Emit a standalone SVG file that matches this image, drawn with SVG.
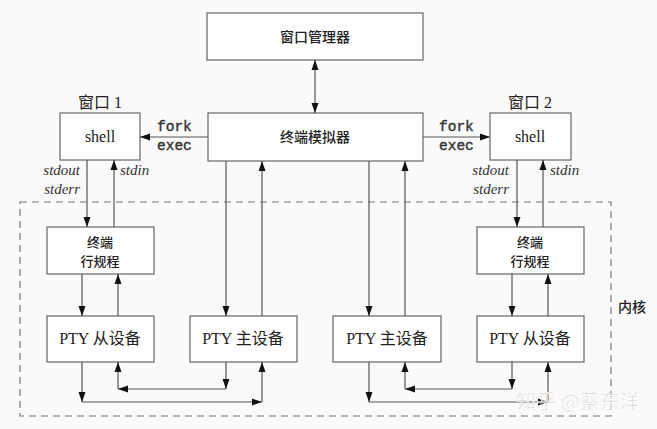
<svg xmlns="http://www.w3.org/2000/svg" width="657" height="429" viewBox="0 0 657 429">
<defs>
<marker id="ah" viewBox="0 0 10 10" refX="10" refY="5" markerWidth="10" markerHeight="10" markerUnits="userSpaceOnUse" orient="auto-start-reverse">
<path d="M0,1.5 L10,5 L0,8.5 Z" fill="#111"/>
</marker>
<style>
.box{fill:#fff;stroke:#666;stroke-width:1.2}
.ln{fill:none;stroke:#555;stroke-width:1.2}
.ar{fill:none;stroke:#555;stroke-width:1.2;marker-end:url(#ah)}
.cjk{font-family:"Noto Sans CJK SC",sans-serif;font-size:14px;font-weight:500;fill:#222;text-anchor:middle}
.cjk2{font-family:"Noto Sans CJK SC",sans-serif;font-size:13px;font-weight:500;fill:#222;text-anchor:middle}
.lat{font-family:"Liberation Serif","Noto Sans CJK SC",serif;font-size:16px;fill:#222;text-anchor:middle}
.mono{font-family:"Liberation Mono",monospace;font-size:14.5px;fill:#333;stroke:#333;stroke-width:0.4}
.it{font-family:"Liberation Serif",serif;font-style:italic;font-size:15px;fill:#333}
</style>
</defs>
<rect width="657" height="429" fill="#fafafa"/>
<rect x="20" y="202" width="591" height="214" fill="none" stroke="#777" stroke-width="1.2" stroke-dasharray="7,5"/>
<text x="632" y="312" class="cjk">内核</text>

<g id="wm"><rect class="box" x="207" y="13" width="216" height="47"/><text x="315" y="42" class="cjk">窗口管理器</text></g>
<g id="te"><rect class="box" x="208" y="113" width="215" height="48"/><text x="315" y="142" class="cjk">终端模拟器</text></g>
<g id="shell1"><rect class="box" x="60" y="113" width="80" height="47"/><text x="100" y="142" class="lat">shell</text><text x="100" y="108" class="lat" font-size="15">窗口 1</text></g>
<g id="shell2"><rect class="box" x="490" y="113" width="81" height="47"/><text x="530" y="142" class="lat">shell</text><text x="530" y="108" class="lat" font-size="15">窗口 2</text></g>
<g id="ld1"><rect class="box" x="47" y="227" width="107" height="47"/><text x="100" y="247" class="cjk2">终端</text><text x="100" y="266" class="cjk2">行规程</text></g>
<g id="ld2"><rect class="box" x="477" y="227" width="107" height="47"/><text x="530" y="247" class="cjk2">终端</text><text x="530" y="266" class="cjk2">行规程</text></g>
<g id="slave1"><rect class="box" x="47" y="316" width="107" height="46"/><text x="100" y="344" class="lat">PTY 从设备</text></g>
<g id="master1"><rect class="box" x="190" y="316" width="107" height="46"/><text x="243" y="344" class="lat">PTY 主设备</text></g>
<g id="master2"><rect class="box" x="333" y="316" width="108" height="46"/><text x="387" y="344" class="lat">PTY 主设备</text></g>
<g id="slave2"><rect class="box" x="477" y="316" width="107" height="46"/><text x="530" y="344" class="lat">PTY 从设备</text></g>

<g id="connectors">
<line class="ar" x1="315" y1="86" x2="315" y2="60"/>
<line class="ar" x1="315" y1="86" x2="315" y2="113"/>
<line class="ar" x1="208" y1="137" x2="140" y2="137"/>
<line class="ar" x1="423" y1="137" x2="490" y2="137"/>
<text x="157" y="131" class="mono">fork</text><text x="157" y="150" class="mono">exec</text>
<text x="439" y="131" class="mono">fork</text><text x="439" y="150" class="mono">exec</text>
<line class="ar" x1="87" y1="160" x2="87" y2="227"/>
<line class="ar" x1="114" y1="227" x2="114" y2="160"/>
<line class="ar" x1="517" y1="160" x2="517" y2="227"/>
<line class="ar" x1="543" y1="227" x2="543" y2="160"/>
<text x="80" y="175" class="it" text-anchor="end">stdout</text><text x="80" y="194" class="it" text-anchor="end">stderr</text><text x="120" y="175" class="it">stdin</text>
<text x="509" y="175" class="it" text-anchor="end">stdout</text><text x="509" y="194" class="it" text-anchor="end">stderr</text><text x="550" y="175" class="it">stdin</text>
<line class="ar" x1="82" y1="274" x2="82" y2="316"/>
<line class="ar" x1="118" y1="316" x2="118" y2="274"/>
<line class="ar" x1="512" y1="274" x2="512" y2="316"/>
<line class="ar" x1="548" y1="316" x2="548" y2="274"/>
<line class="ar" x1="226" y1="161" x2="226" y2="316"/>
<line class="ar" x1="262" y1="316" x2="262" y2="161"/>
<line class="ar" x1="369" y1="161" x2="369" y2="316"/>
<line class="ar" x1="405" y1="316" x2="405" y2="161"/>
<line class="ar" x1="82" y1="362" x2="82" y2="402"/>
<line class="ar" x1="82" y1="402" x2="262" y2="402"/>
<line class="ar" x1="262" y1="402" x2="262" y2="362"/>
<line class="ar" x1="226" y1="362" x2="226" y2="389"/>
<line class="ar" x1="226" y1="389" x2="118" y2="389"/>
<line class="ar" x1="118" y1="389" x2="118" y2="362"/>
<line class="ar" x1="369" y1="362" x2="369" y2="402"/>
<line class="ar" x1="369" y1="402" x2="548" y2="402"/>
<line class="ar" x1="548" y1="402" x2="548" y2="362"/>
<line class="ar" x1="512" y1="362" x2="512" y2="389"/>
<line class="ar" x1="512" y1="389" x2="405" y2="389"/>
<line class="ar" x1="405" y1="389" x2="405" y2="362"/>
</g>
<text x="578" y="409" font-family="Noto Sans CJK SC,sans-serif" font-size="20" fill="#ccc" fill-opacity="0.8" text-anchor="middle" stroke="#fff" stroke-width="0.6">知乎 @蔡东洋</text>
</svg>
